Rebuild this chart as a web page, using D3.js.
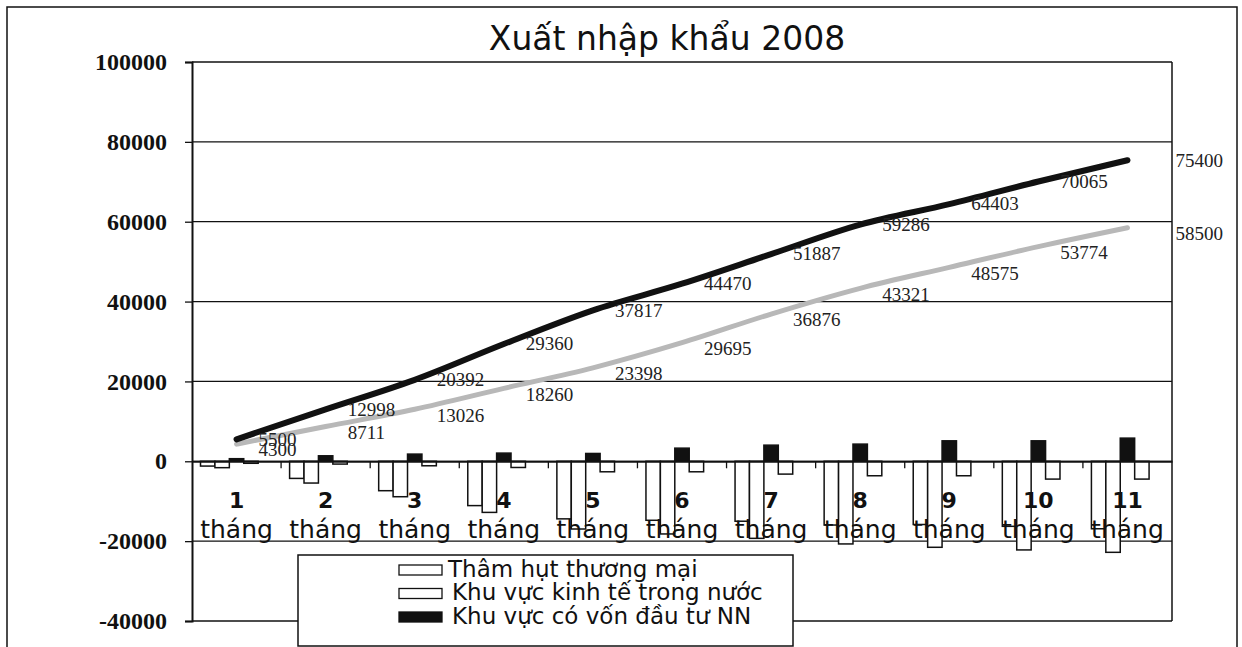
<!DOCTYPE html>
<html>
<head>
<meta charset="utf-8">
<script src="https://cdn.jsdelivr.net/npm/d3@7"></script>
<style>
  html, body { margin: 0; padding: 0; background: #fff; }
  svg { display: block; }
</style>
</head>
<body>
<svg id="chart" width="1242" height="647"></svg>
<script>
// ---------- data ----------
const title = "Xuất nhập khẩu 2008";
const months = ["1", "2", "3", "4", "5", "6", "7", "8", "9", "10", "11"];
const monthWord = "tháng";
const importsLine = [5500, 12998, 20392, 29360, 37817, 44470, 51887, 59286, 64403, 70065, 75400];
const exportsLine = [4300, 8711, 13026, 18260, 23398, 29695, 36876, 43321, 48575, 53774, 58500];
const deficit  = [-1200, -4287, -7366, -11100, -14419, -14775, -15011, -15965, -15828, -16291, -16900];
const domestic = [-1600, -5450, -8875, -12800, -16960, -18200, -19300, -20700, -21540, -22200, -22800];
const fdi      = [650, 1375, 1800, 2050, 1960, 3290, 4040, 4300, 5125, 5125, 5800];
const fdiOther = [-500, -700, -1125, -1550, -2630, -2630, -3210, -3625, -3625, -4460, -4460];
const yTicks = [100000, 80000, 60000, 40000, 20000, 0, -20000, -40000];
const legendNames = ["Thâm hụt thương mại", "Khu vực kinh tế trong nước", "Khu vực có vốn đầu tư NN"];

// ---------- layout ----------
const svg = d3.select("#chart");
const L = 192, R = 1172, T = 62, B = 621;

const x0 = d3.scaleBand().domain(months).range([L, R]).padding(0);
const x1 = d3.scaleBand().domain([0, 1, 2, 3, 4]).range([0, x0.bandwidth()]).paddingInner(0).paddingOuter(0.59);
const y = d3.scaleLinear().domain([-40000, 100000]).range([B, T]);

// outer frame
svg.append("rect").attr("x", 7).attr("y", 7).attr("width", 1230).attr("height", 660)
  .attr("fill", "none").attr("stroke", "#111").attr("stroke-width", 1.5);

// title
svg.append("text").attr("x", 667).attr("y", 50).attr("text-anchor", "middle")
  .attr("font-family", "DejaVu Sans").attr("font-size", 33).attr("fill", "#111").text(title);

// gridlines
svg.append("g").selectAll("line").data(yTicks).join("line")
  .attr("x1", L).attr("x2", R)
  .attr("y1", d => y(d)).attr("y2", d => y(d))
  .attr("stroke", "#111").attr("stroke-width", 1.3);

// y axis
const yAxis = svg.append("g").attr("transform", `translate(${L},0)`)
  .call(d3.axisLeft(y).tickValues(yTicks).tickSize(7).tickPadding(18).tickFormat(d => String(d)));
yAxis.select(".domain").attr("stroke", "#111").attr("stroke-width", 2);
yAxis.selectAll(".tick line").attr("stroke", "#111").attr("stroke-width", 1.3);
yAxis.selectAll(".tick text").attr("font-family", "Liberation Serif").attr("font-weight", "bold")
  .attr("font-size", 24).attr("fill", "#111");

// right plot border
svg.append("line").attr("x1", R).attr("x2", R).attr("y1", T).attr("y2", B)
  .attr("stroke", "#111").attr("stroke-width", 1.5);

const barSeries = [
  { vals: deficit, fill: "#fff" },
  { vals: domestic, fill: "#fff" },
  { vals: fdi, fill: "#111" },
  { vals: fdiOther, fill: "#fff" }
];

const barG = svg.append("g");
barSeries.forEach((s, k) => {
  barG.append("g").selectAll("rect").data(months).join("rect")
    .attr("x", (m) => x0(m) + x1(k))
    .attr("width", x1.bandwidth())
    .attr("y", (m, i) => y(Math.max(0, s.vals[i])))
    .attr("height", (m, i) => Math.abs(y(s.vals[i]) - y(0)))
    .attr("fill", s.fill)
    .attr("stroke", "#111").attr("stroke-width", 1.5);
});

// x axis baseline + ticks
const xAxis = svg.append("g").attr("transform", `translate(0,${y(0)})`)
  .call(d3.axisBottom(x0).tickSize(0).tickFormat(""));
xAxis.select(".domain").attr("stroke", "#111").attr("stroke-width", 2);
svg.append("g").selectAll("line").data(months.slice(1)).join("line")
  .attr("x1", m => x0(m)).attr("x2", m => x0(m))
  .attr("y1", y(0)).attr("y2", y(0) + 7)
  .attr("stroke", "#111").attr("stroke-width", 1.3);

// category labels
const catG = svg.append("g").attr("font-family", "DejaVu Sans").attr("fill", "#111").attr("text-anchor", "middle");
catG.selectAll("text.num").data(months).join("text").attr("class", "num")
  .attr("x", m => x0(m) + x0.bandwidth() / 2).attr("y", 508)
  .attr("font-size", 22).attr("font-weight", "bold").text(m => m);
catG.selectAll("text.word").data(months).join("text").attr("class", "word")
  .attr("x", m => x0(m) + x0.bandwidth() / 2).attr("y", 538)
  .attr("font-size", 25).text(monthWord);

// lines
const cx = m => x0(m) + x0.bandwidth() / 2;
const lineGen = vals => d3.line().x(m => cx(m)).y((m, i) => y(vals[i])).curve(d3.curveMonotoneX)(months);
svg.append("path").attr("d", lineGen(exportsLine)).attr("fill", "none")
  .attr("stroke", "#b8b8b8").attr("stroke-width", 5).attr("stroke-linecap", "round");
svg.append("path").attr("d", lineGen(importsLine)).attr("fill", "none")
  .attr("stroke", "#111").attr("stroke-width", 6).attr("stroke-linecap", "round");

// data labels
function labels(vals, dy) {
  svg.append("g").selectAll("text").data(months).join("text")
    .attr("x", (m, i) => cx(m) + (i === months.length - 1 ? 48 : 22))
    .attr("y", (m, i) => y(vals[i]) + dy)
    .attr("dominant-baseline", "middle")
    .attr("font-family", "Liberation Serif").attr("font-size", 19).attr("fill", "#222")
    .text((m, i) => vals[i]);
}
labels(importsLine, 2);
labels(exportsLine, 8);

// legend
const lg = svg.append("g");
lg.append("rect").attr("x", 298).attr("y", 555).attr("width", 495).attr("height", 91)
  .attr("fill", "#fff").attr("stroke", "#111").attr("stroke-width", 1.5);
const swFill = ["#fff", "#fff", "#111"];
legendNames.forEach((name, i) => {
  const yy = 570 + i * 23.5;
  lg.append("rect").attr("x", 399).attr("y", yy - 5).attr("width", 43).attr("height", 10)
    .attr("fill", swFill[i]).attr("stroke", "#111").attr("stroke-width", 1.3);
  lg.append("text").attr("x", i === 0 ? 448 : 452).attr("y", yy).attr("dominant-baseline", "middle")
    .attr("font-family", "DejaVu Sans").attr("font-size", 23).attr("fill", "#111").text(name);
});
</script>
</body>
</html>
